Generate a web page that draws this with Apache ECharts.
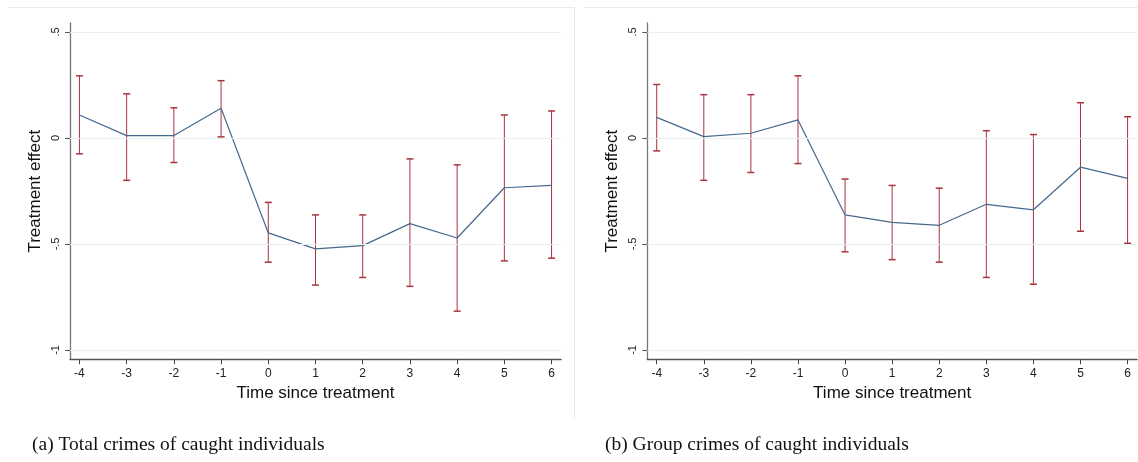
<!DOCTYPE html>
<html>
<head>
<meta charset="utf-8">
<script src="https://cdn.jsdelivr.net/npm/echarts@6/dist/echarts.min.js"></script>
<style>
  html, body { margin: 0; padding: 0; background: #ffffff; }
  #chart { width: 1138px; height: 462px; }
</style>
</head>
<body>
<div id="chart"></div>
<script>
// Event-study estimates: periods relative to treatment
const periods = [-4, -3, -2, -1, 0, 1, 2, 3, 4, 5, 6];
const yTickValues = [-1, -0.5, 0, 0.5];
const yTickLabels = ['-1', '-.5', '0', '.5'];

// (a) Total crimes of caught individuals
const totalEffect = [0.108, 0.011, 0.011, 0.140, -0.448, -0.523, -0.508, -0.404, -0.472, -0.235, -0.224];
const totalUpper  = [0.293, 0.208, 0.142, 0.270, -0.304, -0.363, -0.363, -0.099, -0.127, 0.108, 0.127];
const totalLower  = [-0.075, -0.200, -0.116, 0.005, -0.586, -0.694, -0.658, -0.700, -0.817, -0.580, -0.567];

// (b) Group crimes of caught individuals
const groupEffect = [0.097, 0.006, 0.022, 0.085, -0.363, -0.398, -0.412, -0.313, -0.339, -0.138, -0.191];
const groupUpper  = [0.252, 0.204, 0.204, 0.293, -0.194, -0.224, -0.237, 0.034, 0.016, 0.166, 0.100];
const groupLower  = [-0.061, -0.200, -0.163, -0.121, -0.537, -0.574, -0.586, -0.658, -0.690, -0.440, -0.497];

const captions = ['(a) Total crimes of caught individuals', '(b) Group crimes of caught individuals'];

const BAR_RED = '#a8343e';
const LINE_BLUE = '#46688c';
const SANS = 'Liberation Sans, Arial, sans-serif';

function errorBar(params, api) {
  const x = api.value(0);
  const lo = api.coord([x, api.value(1)]);
  const hi = api.coord([x, api.value(2)]);
  const half = 3.5;
  const bar = { stroke: BAR_RED, lineWidth: 1 };
  const cap = { stroke: BAR_RED, lineWidth: 1.5 };
  return {
    type: 'group',
    children: [
      { type: 'line', shape: { x1: lo[0], y1: lo[1], x2: hi[0], y2: hi[1] }, style: bar },
      { type: 'line', shape: { x1: lo[0] - half, y1: lo[1], x2: lo[0] + half, y2: lo[1] }, style: cap },
      { type: 'line', shape: { x1: hi[0] - half, y1: hi[1], x2: hi[0] + half, y2: hi[1] }, style: cap }
    ]
  };
}

function xAxisFor(idx) {
  return {
    type: 'value', gridIndex: idx, min: -4.2, max: 6.2,
    name: 'Time since treatment', nameLocation: 'middle', nameGap: 26,
    nameTextStyle: { fontFamily: SANS, fontSize: 17, color: '#111' },
    axisLine: { show: true, onZero: false, lineStyle: { color: '#555', width: 1.4 } },
    axisTick: { show: true, length: 5, customValues: periods, lineStyle: { color: '#444', width: 1 } },
    axisLabel: { customValues: periods, fontFamily: SANS, fontSize: 12, color: '#222', margin: 8 },
    splitLine: { show: false }
  };
}

function yAxisFor(idx) {
  return {
    type: 'value', gridIndex: idx, min: -1.044, max: 0.542,
    name: 'Treatment effect', nameLocation: 'middle', nameGap: 26,
    nameTextStyle: { fontFamily: SANS, fontSize: 17, color: '#111' },
    axisLine: { show: true, onZero: false, lineStyle: { color: '#777', width: 1.3 } },
    axisTick: { show: true, length: 5, customValues: yTickValues, lineStyle: { color: '#555', width: 1 } },
    axisLabel: {
      customValues: yTickValues, rotate: 90, fontFamily: SANS, fontSize: 11, color: '#222', margin: 9,
      formatter: function (v) {
        const i = yTickValues.findIndex(t => Math.abs(t - v) < 1e-9);
        return i >= 0 ? yTickLabels[i] : '';
      }
    },
    splitLine: { show: false }
  };
}

function gridLines(idx) {
  return {
    type: 'line', xAxisIndex: idx, yAxisIndex: idx, data: [], silent: true,
    markLine: {
      symbol: 'none', silent: true, label: { show: false },
      lineStyle: { color: '#e8f0f0', width: 1, type: 'solid' },
      data: yTickValues.map(v => ({ yAxis: v }))
    }
  };
}

function effectLine(idx, values) {
  return {
    type: 'line', xAxisIndex: idx, yAxisIndex: idx, z: 3,
    data: periods.map((p, i) => [p, values[i]]),
    showSymbol: false, symbol: 'none',
    lineStyle: { color: LINE_BLUE, width: 1.2 }
  };
}

function bars(idx, lower, upper) {
  return {
    type: 'custom', xAxisIndex: idx, yAxisIndex: idx, z: 2,
    renderItem: errorBar,
    encode: { x: 0, y: [1, 2] },
    data: periods.map((p, i) => [p, lower[i], upper[i]])
  };
}

const chart = echarts.init(document.getElementById('chart'), null, { renderer: 'canvas' });
chart.setOption({
  animation: false,
  backgroundColor: '#ffffff',
  grid: [
    { left: 70, right: 577, top: 23, bottom: 102.7 },
    { left: 647.3, right: 1, top: 23, bottom: 102.7 }
  ],
  xAxis: [xAxisFor(0), xAxisFor(1)],
  yAxis: [yAxisFor(0), yAxisFor(1)],
  graphic: [
    { type: 'line', shape: { x1: 8, y1: 7.5, x2: 574.5, y2: 7.5 }, style: { stroke: '#e3eded', lineWidth: 1 } },
    { type: 'line', shape: { x1: 574.5, y1: 7.5, x2: 574.5, y2: 419 }, style: { stroke: '#e3eded', lineWidth: 1 } },
    { type: 'line', shape: { x1: 585, y1: 7.5, x2: 1138, y2: 7.5 }, style: { stroke: '#e3eded', lineWidth: 1 } },
    { type: 'text', left: 32, top: 435, style: { text: captions[0], font: '19.5px "Liberation Serif", "Times New Roman", serif', fill: '#111' } },
    { type: 'text', left: 605, top: 435, style: { text: captions[1], font: '19.5px "Liberation Serif", "Times New Roman", serif', fill: '#111' } }
  ],
  series: [
    gridLines(0), bars(0, totalLower, totalUpper), effectLine(0, totalEffect),
    gridLines(1), bars(1, groupLower, groupUpper), effectLine(1, groupEffect)
  ]
});
</script>
</body>
</html>
